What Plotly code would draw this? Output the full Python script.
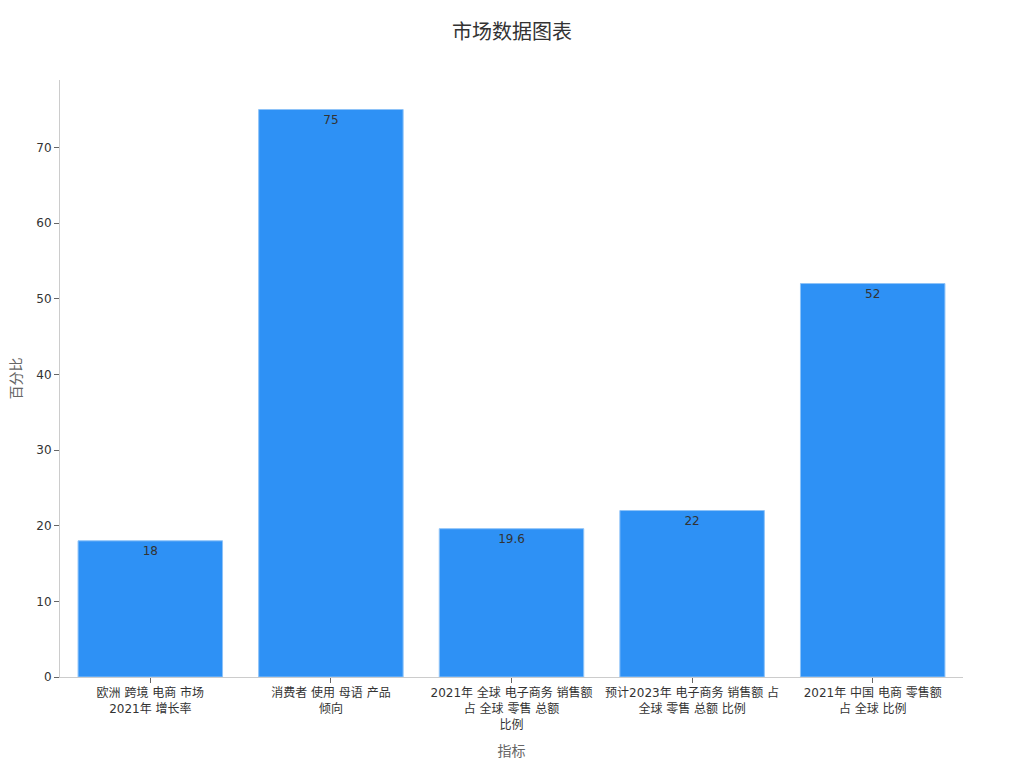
import plotly.graph_objects as go

categories = [
    "欧洲 跨境 电商 市场<br>2021年 增长率",
    "消费者 使用 母语 产品<br>倾向",
    "2021年 全球 电子商务 销售额<br>占 全球 零售 总额<br>比例",
    "预计2023年 电子商务 销售额 占<br>全球 零售 总额 比例",
    "2021年 中国 电商 零售额<br>占 全球 比例",
]
values = [18, 75, 19.6, 22, 52]
labels = ["18", "75", "19.6", "22", "52"]

fig = go.Figure(go.Bar(
    x=categories,
    y=values,
    text=labels,
    textposition="inside",
    insidetextanchor="end",
    textfont=dict(color="#333", size=12),
    marker=dict(color="#2E91F5", line=dict(color="#8EC3F8", width=1)),
))

fig.update_layout(
    template="simple_white",
    margin=dict(l=52, r=53, t=72, b=83),
    font=dict(family="DejaVu Sans, Noto Sans CJK SC", size=12, color="#333"),
    title=dict(text="市场数据图表", x=0.5, y=0.968, xanchor="center", yanchor="middle",
               font=dict(size=20, color="#333")),
    bargap=0.2,
    showlegend=False,
)
fig.update_xaxes(title=dict(text="指标", font=dict(size=14, color="#666")),
                 linecolor="#ccc", ticks="outside", tickcolor="#666",
                 automargin=False)
fig.update_yaxes(title=dict(text="百分比", font=dict(size=14, color="#666")),
                 range=[0, 78.9], linecolor="#ccc", ticks="outside",
                 tickcolor="#666", showgrid=False, automargin=False)

fig.write_html("out.html")
